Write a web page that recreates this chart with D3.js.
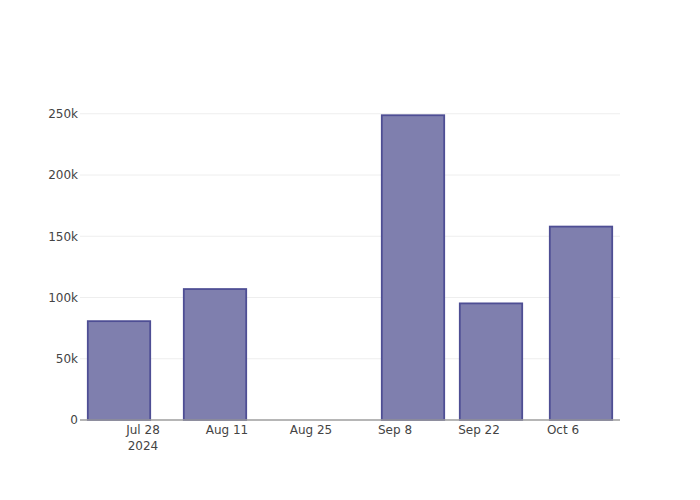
<!DOCTYPE html>
<html>
<head>
<meta charset="utf-8">
<script src="https://cdn.jsdelivr.net/npm/d3@7"></script>
<style>
  html, body { margin: 0; padding: 0; background: #fff; }
  svg { display: block; }
</style>
</head>
<body>
<svg id="chart" width="700" height="500"></svg>
<script>
// ---- data ----
const dates = ["2024-07-24", "2024-08-09", "2024-09-11", "2024-09-24", "2024-10-09"];
const values = [80700, 106900, 248800, 95200, 157900];
const xTickDates = ["2024-07-28", "2024-08-11", "2024-08-25", "2024-09-08", "2024-09-22", "2024-10-06"];
const xTickLabels = [["Jul 28", "2024"], ["Aug 11"], ["Aug 25"], ["Sep 8"], ["Sep 22"], ["Oct 6"]];
const yTicks = [0, 50000, 100000, 150000, 200000, 250000];
const yTickLabels = ["0", "50k", "100k", "150k", "200k", "250k"];

// ---- layout ----
const W = 700, H = 500;
const margin = { l: 80, r: 80, t: 100, b: 80 };
const pw = W - margin.l - margin.r, ph = H - margin.t - margin.b;
const font = "'DejaVu Sans', sans-serif";

const parse = d3.utcParse("%Y-%m-%d");
const dd = dates.map(parse);
const DAY = 86400000;
let minGap = Infinity;
for (let i = 1; i < dd.length; i++) minGap = Math.min(minGap, dd[i] - dd[i - 1]);

const x = d3.scaleUtc()
  .domain([new Date(+dd[0] - minGap / 2), new Date(+dd[dd.length - 1] + minGap / 2)])
  .range([margin.l, margin.l + pw]);
const y = d3.scaleLinear()
  .domain([0, d3.max(values) * 1.05])
  .range([margin.t + ph, margin.t]);

const svg = d3.select("#chart");
svg.append("rect").attr("width", W).attr("height", H).attr("fill", "#fff");

// gridlines
svg.append("g").selectAll("line")
  .data(yTicks.filter(v => v > 0))
  .join("line")
  .attr("x1", margin.l).attr("x2", margin.l + pw)
  .attr("y1", d => y(d)).attr("y2", d => y(d))
  .attr("stroke", "#eeeeee").attr("stroke-width", 1);

// bars
const barW = x(new Date(+dd[0] + minGap)) - x(dd[0]);
const bw = barW * 0.8;
svg.append("g").selectAll("rect")
  .data(dd.map((d, i) => ({ d, v: values[i] })))
  .join("rect")
  .attr("x", o => x(o.d) - bw / 2)
  .attr("width", bw)
  .attr("y", o => y(o.v))
  .attr("height", o => y(0) - y(o.v))
  .attr("fill", "#7f7fae")
  .attr("stroke", "#4e4e94")
  .attr("stroke-width", 1.8);

// x axis line
svg.append("line")
  .attr("x1", margin.l).attr("x2", margin.l + pw)
  .attr("y1", y(0)).attr("y2", y(0))
  .attr("stroke", "#9e9e9e").attr("stroke-width", 1.5);

// y tick labels
svg.append("g").selectAll("text")
  .data(yTicks)
  .join("text")
  .attr("x", margin.l - 2)
  .attr("y", d => y(d))
  .attr("dy", "0.36em")
  .attr("text-anchor", "end")
  .attr("font-family", font).attr("font-size", 12).attr("fill", "#444")
  .text((d, i) => yTickLabels[i]);

// x tick labels
const xt = svg.append("g").selectAll("text")
  .data(xTickDates.map((s, i) => ({ d: parse(s), lines: xTickLabels[i] })))
  .join("text")
  .attr("x", o => x(o.d))
  .attr("y", y(0) + 13.5)
  .attr("text-anchor", "middle")
  .attr("font-family", font).attr("font-size", 12).attr("fill", "#444");
xt.selectAll("tspan")
  .data(o => o.lines.map(t => ({ t, xx: x(o.d) })))
  .join("tspan")
  .attr("x", t => t.xx)
  .attr("dy", (t, i) => i === 0 ? 0 : 16)
  .text(t => t.t);
</script>
</body>
</html>
